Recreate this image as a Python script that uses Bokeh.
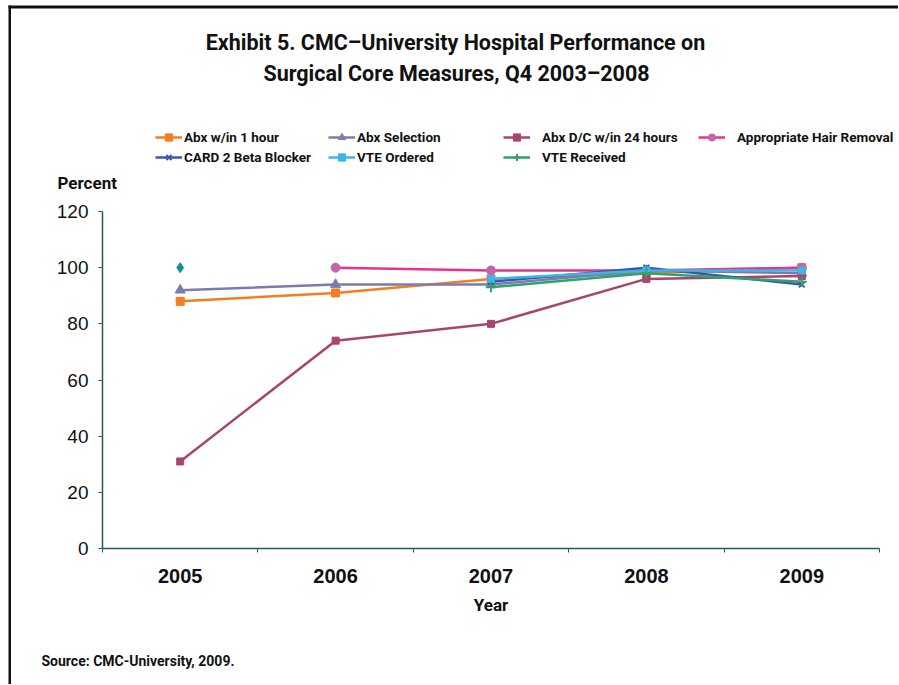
from bokeh.plotting import figure
from bokeh.models import Range1d, FixedTicker, Legend, LegendItem, Label, BoxAnnotation
from bokeh.embed import file_html
from bokeh.resources import INLINE

nan = float("nan")

years = ["2005", "2006", "2007", "2008", "2009"]
y_ticks = [0, 20, 40, 60, 80, 100, 120]

abx_1hr = [88, 91, 96, 98, 100]
abx_sel = [92, 94, 94, 99, 98]
abx_dc = [31, 74, 80, 96, 97]
hair_removal = [nan, 100, 99, 99, 100]
card2_bb = [nan, nan, 95, 100, 94]
vte_ordered = [nan, nan, 96, 99, 99]
vte_received = [nan, nan, 93, 98, 95]
unlabeled_2005 = [100, nan, nan, nan, nan]

title_1 = "Exhibit 5. CMC\u2013University Hospital Performance on"
title_2 = "Surgical Core Measures, Q4 2003\u20132008"
source_text = "Source: CMC-University, 2009."

COND = "Roboto"
SANS = "Liberation Sans"

# page geometry (pixels); the figure sits at the page's top-left corner
FIG_X, FIG_Y, W, H = 0, 0, 898, 684
AX_LEFT, AX_RIGHT, AX_TOP, AX_BOTTOM = 102, 879, 211, 548
Y_MAX = 120
n = len(years)

xs = [i + 0.5 for i in range(n)]
px_x = (AX_RIGHT - AX_LEFT) / n
px_y = (AX_BOTTOM - AX_TOP) / Y_MAX
x_range = Range1d(-(AX_LEFT - FIG_X) / px_x, n + (FIG_X + W - AX_RIGHT) / px_x)
y_range = Range1d(-(FIG_Y + H - AX_BOTTOM) / px_y, Y_MAX + (AX_TOP - FIG_Y) / px_y)

p = figure(width=W, height=H, output_backend="svg", toolbar_location=None,
           x_range=x_range, y_range=y_range,
           min_border=0, min_border_left=0, min_border_right=0,
           min_border_top=0, min_border_bottom=0)
p.outline_line_color = None
p.grid.visible = False

axis_col = "#1d5a66"
p.yaxis.fixed_location = 0
p.yaxis.bounds = (0, Y_MAX)
p.yaxis.ticker = FixedTicker(ticks=y_ticks)
p.yaxis.axis_line_color = axis_col
p.yaxis.axis_line_width = 1.5
p.yaxis.major_tick_line_color = axis_col
p.yaxis.major_tick_out = 4
p.yaxis.major_tick_in = 0
p.yaxis.minor_tick_line_color = None
p.yaxis.major_label_text_font = SANS
p.yaxis.major_label_text_font_size = "19px"
p.yaxis.major_label_text_color = "#111"
p.yaxis.major_label_standoff = 10

p.xaxis.fixed_location = 0
p.xaxis.bounds = (0, n)
p.xaxis.ticker = FixedTicker(ticks=xs, minor_ticks=list(range(n + 1)))
p.xaxis.major_label_overrides = {x: y for x, y in zip(xs, years)}
p.xaxis.axis_line_color = axis_col
p.xaxis.axis_line_width = 1.5
p.xaxis.major_tick_line_color = None
p.xaxis.minor_tick_line_color = axis_col
p.xaxis.minor_tick_out = 4
p.xaxis.minor_tick_in = 0
p.xaxis.major_label_text_font = SANS
p.xaxis.major_label_text_font_style = "bold"
p.xaxis.major_label_text_font_size = "20px"
p.xaxis.major_label_text_color = "#111"
p.xaxis.major_label_standoff = 14
p.xaxis.axis_label = "Year"
p.xaxis.axis_label_text_font = COND
p.xaxis.axis_label_text_font_style = "bold"
p.xaxis.axis_label_text_font_size = "17px"
p.xaxis.axis_label_text_color = "#111"
p.xaxis.axis_label_standoff = 9

series = [
    ("Abx w/in 1 hour", abx_1hr, "#f47d20", "#f47d20", "square", 8),
    ("Abx Selection", abx_sel, "#7b7cae", "#7b7cae", "triangle", 10),
    ("Abx D/C w/in 24 hours", abx_dc, "#a8456f", "#a8456f", "square", 7),
    ("Appropriate Hair Removal", hair_removal, "#e8338e", "#c862ad", "circle", 9),
    ("CARD 2 Beta Blocker", card2_bb, "#3b58a8", "#3b58a8", "x", 8),
    ("VTE Ordered", vte_ordered, "#3cb6e6", "#3cb6e6", "square", 7),
    ("VTE Received", vte_received, "#2fa36b", "#2fa36b", "cross", 10),
]

items = {}
for name, vals, lc, mc, marker, sz in series:
    lr = p.line(xs, vals, line_color=lc, line_width=2.5)
    sr = p.scatter(xs, vals, marker=marker, size=sz, fill_color=mc,
                   line_color=mc, line_width=2 if marker in ("x", "cross") else 1)
    items[name] = LegendItem(label=name, renderers=[lr, sr])

p.scatter(xs, unlabeled_2005, marker="diamond", size=10, fill_color="#11918f",
          line_color="#11918f")

legend_cols = [
    (["Abx w/in 1 hour", "CARD 2 Beta Blocker"], 155, 2),
    (["Abx Selection", "VTE Ordered"], 328, 2),
    (["Abx D/C w/in 24 hours", "VTE Received"], 503, 12),
    (["Appropriate Hair Removal"], 698, 12),
]
for names, X, standoff in legend_cols:
    bottom = 166 if len(names) == 2 else 146
    lg = Legend(items=[items[nm] for nm in names],
                location=(X - FIG_X, FIG_Y + H - bottom),
                orientation="vertical", padding=0, margin=0, spacing=2,
                label_height=18, glyph_height=18, glyph_width=27,
                label_standoff=standoff, border_line_color=None,
                background_fill_alpha=0, label_text_font=COND,
                label_text_font_style="bold", label_text_font_size="13.5px",
                label_text_color="#111")
    p.add_layout(lg, "center")

def lab(text, X, Y, size, align="left", style="normal"):
    p.add_layout(Label(x=X - FIG_X, y=FIG_Y + H - Y, x_units="screen", y_units="screen",
                       text=text, text_font=COND, text_font_size=size,
                       text_font_style=style, text_align=align,
                       text_baseline="middle", text_color="#111"))

lab(title_1, 455, 42, "21.5px", "center", "bold")
lab(title_2, 456, 73, "21.5px", "center", "bold")
lab("Percent", 57, 182, "17px", "left", "bold")
lab(source_text, 41, 660, "14px", "left", "bold")

# page frame lines (top and left), drawn as thin filled bars
def bar(l, r, t, b):
    p.add_layout(BoxAnnotation(left=l, right=r, top=t, bottom=b,
                               left_units="screen", right_units="screen",
                               top_units="screen", bottom_units="screen",
                               fill_color="#111", fill_alpha=1, line_alpha=0))

bar(8, W, H - 5, H - 8)
bar(8, 10.5, H - 5, 0)

open("out.html", "w").write(file_html(p, INLINE))
